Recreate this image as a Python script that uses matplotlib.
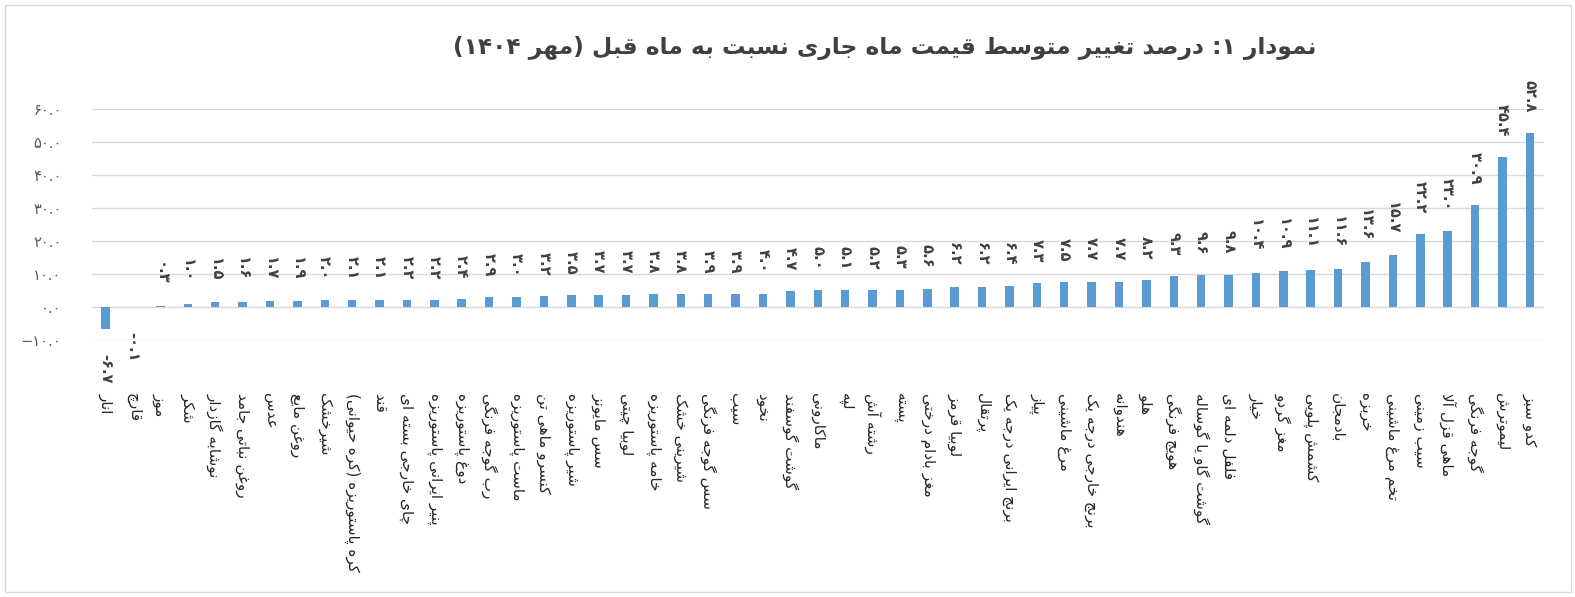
import matplotlib
matplotlib.use("Agg")
import matplotlib.pyplot as plt
from matplotlib.patches import Rectangle
from matplotlib.ticker import FixedLocator, FuncFormatter

# ---------------- data ----------------
title_text = "نمودار ۱: درصد تغییر متوسط قیمت ماه جاری نسبت به ماه قبل (مهر ۱۴۰۴)"

categories = [
    "انار", "قارچ", "موز", "شکر", "نوشابه گازدار", "روغن نباتی جامد", "عدس",
    "روغن مایع", "شیرخشک", "کره پاستوریزه (کره حیوانی)", "قند",
    "چای خارجی بسته ای", "پنیر ایرانی پاستوریزه", "دوغ پاستوریزه",
    "رب گوجه فرنگی", "ماست پاستوریزه", "کنسرو ماهی تن", "شیر پاستوریزه",
    "سس مایونز", "لوبیا چیتی", "خامه پاستوریزه", "شیرینی خشک",
    "سس گوجه فرنگی", "سیب", "نخود", "گوشت گوسفند", "ماکارونی", "لپه",
    "رشته آش", "پسته", "مغز بادام درختی", "لوبیا قرمز", "پرتقال",
    "برنج ایرانی درجه یک", "پیاز", "مرغ ماشینی", "برنج خارجی درجه یک",
    "هندوانه", "هلو", "هویج فرنگی", "گوشت گاو یا گوساله", "فلفل دلمه ای",
    "خیار", "مغز گردو", "کشمش پلویی", "بادمجان", "خربزه", "تخم مرغ ماشینی",
    "سیب زمینی", "ماهی قزل آلا", "گوجه فرنگی", "لیموترش", "کدو سبز",
]

values = [
    -6.7, -0.1, 0.3, 1.0, 1.5, 1.6, 1.7, 1.9, 2.0, 2.1, 2.1, 2.2, 2.2, 2.4,
    2.9, 3.0, 3.2, 3.5, 3.7, 3.7, 3.8, 3.8, 3.9, 3.9, 4.0, 4.7, 5.0, 5.1,
    5.2, 5.3, 5.6, 6.2, 6.2, 6.4, 7.3, 7.5, 7.7, 7.7, 8.2, 9.3, 9.6, 9.8,
    10.4, 10.9, 11.1, 11.6, 13.6, 15.7, 22.2, 23.0, 30.9, 45.4, 52.8,
]

y_ticks = [-10, 0, 10, 20, 30, 40, 50, 60]

# ---------------- simple Persian shaping + bidi ----------------
FORMS = {
    '\u0627': ('\uFE8D', '\uFE8E', None, None),
    '\u0622': ('\uFE81', '\uFE82', None, None),
    '\u0628': ('\uFE8F', '\uFE90', '\uFE91', '\uFE92'),
    '\u067E': ('\uFB56', '\uFB57', '\uFB58', '\uFB59'),
    '\u062A': ('\uFE95', '\uFE96', '\uFE97', '\uFE98'),
    '\u062B': ('\uFE99', '\uFE9A', '\uFE9B', '\uFE9C'),
    '\u062C': ('\uFE9D', '\uFE9E', '\uFE9F', '\uFEA0'),
    '\u0686': ('\uFB7A', '\uFB7B', '\uFB7C', '\uFB7D'),
    '\u062D': ('\uFEA1', '\uFEA2', '\uFEA3', '\uFEA4'),
    '\u062E': ('\uFEA5', '\uFEA6', '\uFEA7', '\uFEA8'),
    '\u062F': ('\uFEA9', '\uFEAA', None, None),
    '\u0630': ('\uFEAB', '\uFEAC', None, None),
    '\u0631': ('\uFEAD', '\uFEAE', None, None),
    '\u0632': ('\uFEAF', '\uFEB0', None, None),
    '\u0698': ('\uFB8A', '\uFB8B', None, None),
    '\u0633': ('\uFEB1', '\uFEB2', '\uFEB3', '\uFEB4'),
    '\u0634': ('\uFEB5', '\uFEB6', '\uFEB7', '\uFEB8'),
    '\u0635': ('\uFEB9', '\uFEBA', '\uFEBB', '\uFEBC'),
    '\u0636': ('\uFEBD', '\uFEBE', '\uFEBF', '\uFEC0'),
    '\u0637': ('\uFEC1', '\uFEC2', '\uFEC3', '\uFEC4'),
    '\u0638': ('\uFEC5', '\uFEC6', '\uFEC7', '\uFEC8'),
    '\u0639': ('\uFEC9', '\uFECA', '\uFECB', '\uFECC'),
    '\u063A': ('\uFECD', '\uFECE', '\uFECF', '\uFED0'),
    '\u0641': ('\uFED1', '\uFED2', '\uFED3', '\uFED4'),
    '\u0642': ('\uFED5', '\uFED6', '\uFED7', '\uFED8'),
    '\u06A9': ('\uFB8E', '\uFB8F', '\uFB90', '\uFB91'),
    '\u06AF': ('\uFB92', '\uFB93', '\uFB94', '\uFB95'),
    '\u0644': ('\uFEDD', '\uFEDE', '\uFEDF', '\uFEE0'),
    '\u0645': ('\uFEE1', '\uFEE2', '\uFEE3', '\uFEE4'),
    '\u0646': ('\uFEE5', '\uFEE6', '\uFEE7', '\uFEE8'),
    '\u0648': ('\uFEED', '\uFEEE', None, None),
    '\u0647': ('\uFEE9', '\uFEEA', '\uFEEB', '\uFEEC'),
    '\u06CC': ('\uFBFC', '\uFBFD', '\uFBFE', '\uFBFF'),
}
LAM_ALEF = {'\u0627': ('\uFEFB', '\uFEFC'), '\u0622': ('\uFEF5', '\uFEF6')}
PERSIAN_DIGITS = '۰۱۲۳۴۵۶۷۸۹'
MIRROR = {'(': ')', ')': '('}


def _dual(c):
    return c in FORMS and FORMS[c][2] is not None


def shape(text):
    text = text.replace('\u064A', '\u06CC').replace('\u0643', '\u06A9')
    out = []
    i, n = 0, len(text)
    while i < n:
        c = text[i]
        if c not in FORMS:
            out.append(c)
            i += 1
            continue
        prev_join = i > 0 and _dual(text[i - 1])
        if c == '\u0644' and i + 1 < n and text[i + 1] in LAM_ALEF:
            iso, fin = LAM_ALEF[text[i + 1]]
            out.append(fin if prev_join else iso)
            i += 2
            continue
        next_join = _dual(c) and i + 1 < n and text[i + 1] in FORMS
        iso, fin, ini, med = FORMS[c]
        if prev_join and next_join:
            out.append(med)
        elif prev_join:
            out.append(fin)
        elif next_join:
            out.append(ini)
        else:
            out.append(iso)
        i += 1
    # bidi: reverse, keeping digit runs in LTR order
    runs = []
    for ch in out:
        if ch in PERSIAN_DIGITS and runs and runs[-1][0] in PERSIAN_DIGITS:
            runs[-1] += ch
        else:
            runs.append(ch)
    runs = [MIRROR.get(r, r) for r in runs[::-1]]
    return ''.join(runs)


def fa_num(v, fmt="{:.1f}", minus="\u2212"):
    s = fmt.format(abs(v))
    s = ''.join(PERSIAN_DIGITS[int(ch)] if ch.isdigit() else ch for ch in s)
    return (minus + s) if v < 0 else s


# ---------------- figure ----------------
plt.rcParams['font.family'] = ['DejaVu Sans']
fig = plt.figure(figsize=(15.75, 5.97), dpi=100)
W, H = 1575, 597
ax = fig.add_axes([92 / W, 1 - 340 / H, (1543.5 - 92) / W, (340 - 109) / H])

x = list(range(len(values)))
bar_color = '#5B9BD5'
ax.bar(x, values, width=0.31, color=bar_color, zorder=3)

ax.set_xlim(-0.5, len(values) - 0.5)
ax.set_ylim(-10, 60)
ax.yaxis.set_major_locator(FixedLocator(y_ticks))
ax.yaxis.set_major_formatter(FuncFormatter(lambda v, p: fa_num(v)))
ax.grid(axis='y', color='#D9D9D9', linewidth=1.0, zorder=0)
for sp in ax.spines.values():
    sp.set_visible(False)
ax.tick_params(axis='y', length=0, pad=22, labelsize=10.5, labelcolor='#595959')
ax.set_xticks(x)
ax.set_xticklabels([shape(c) for c in categories], rotation=-90,
                   fontsize=11, color='#262626')
ax.tick_params(axis='x', length=0, pad=38)

for xi, v in zip(x, values):
    if v >= 0:
        ax.annotate(fa_num(v), (xi, v), xytext=(0, 15), textcoords='offset points',
                    rotation=-90, ha='center', va='bottom', fontsize=10.5,
                    fontweight='bold', color='#404040')
    else:
        ax.annotate(fa_num(v, minus='-'), (xi, v), xytext=(0, -18),
                    textcoords='offset points',
                    rotation=-90, ha='center', va='top', fontsize=10.5,
                    fontweight='bold', color='#404040')

fig.text(885 / W, 1 - 48 / H, shape(title_text), ha='center', va='center',
         fontsize=16.8, fontweight='bold', color='#404040')

fig.patches.append(Rectangle((5 / W, 5 / H), (1571 - 5) / W, (592 - 5) / H,
                             transform=fig.transFigure, fill=False,
                             edgecolor='#D9D9D9', linewidth=1.0))

fig.savefig('out.png', dpi=100, facecolor='white')
